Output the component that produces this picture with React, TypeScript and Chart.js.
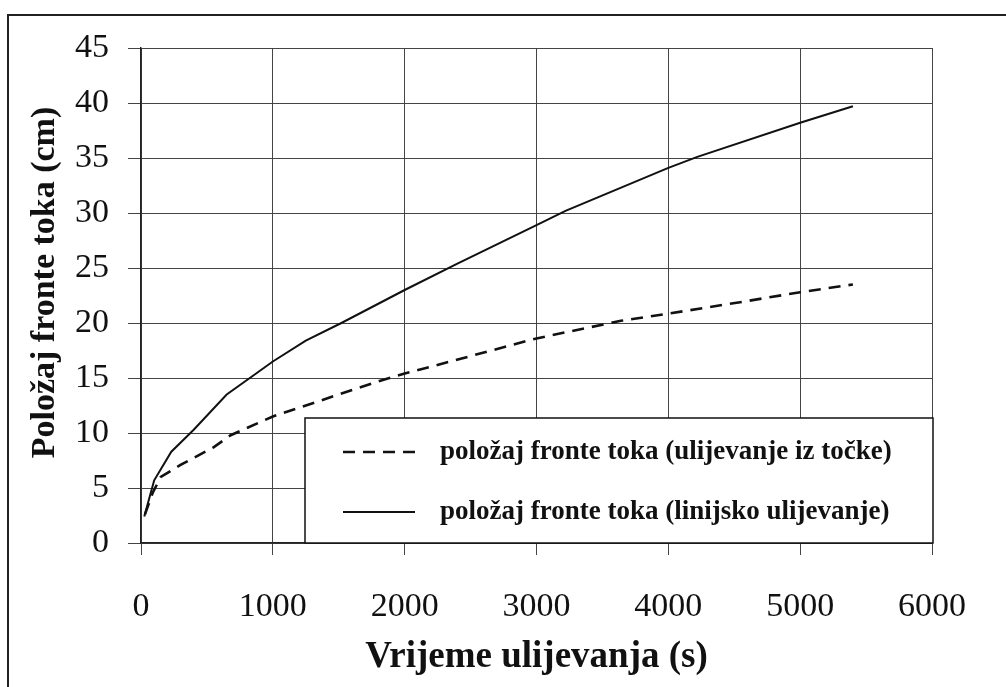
import React, { useEffect, useRef } from "react";
import { Chart, registerables } from "chart.js";

Chart.register(...registerables);

// Time (s) and flow-front position (cm) — linear infiltration (solid line)
const lineTimes = [25, 100, 230, 400, 650, 860, 1000, 1250, 1520, 2000, 2400, 3000, 3220, 4000, 4220, 5000, 5400];
const lineFront = [2.4, 5.7, 8.3, 10.3, 13.5, 15.3, 16.5, 18.4, 20.0, 23.0, 25.4, 28.9, 30.2, 34.1, 35.1, 38.2, 39.7];

// Time (s) and flow-front position (cm) — point infiltration (dashed line)
const pointTimes = [30, 90, 150, 300, 550, 680, 1000, 1350, 1800, 2000, 2330, 3000, 3640, 4000, 4600, 5000, 5400];
const pointFront = [2.6, 4.6, 6.0, 7.1, 8.7, 9.8, 11.5, 12.9, 14.7, 15.4, 16.45, 18.6, 20.2, 20.85, 22.0, 22.8, 23.5];

const pointLabel = "položaj fronte toka (ulijevanje iz točke)";
const lineLabel = "položaj fronte toka (linijsko ulijevanje)";
const xTitle = "Vrijeme ulijevanja (s)";
const yTitle = "Položaj fronte toka (cm)";

const xMin = 0;
const xMax = 6000;
const xStep = 1000;
const yMin = 0;
const yMax = 45;
const yStep = 5;

const SERIF = '"Liberation Serif", "Times New Roman", serif';

const yTitlePlugin = {
  id: "yTitlePlugin",
  afterDraw(chart: any) {
    const ctx = chart.ctx;
    const { top, bottom } = chart.chartArea;
    ctx.save();
    ctx.translate(45, (top + bottom) / 2 - 13);
    ctx.rotate(-Math.PI / 2);
    ctx.font = `bold 34px ${SERIF}`;
    ctx.fillStyle = "#111";
    ctx.textAlign = "center";
    ctx.textBaseline = "middle";
    ctx.fillText(yTitle, 0, 0);
    ctx.restore();
  },
};

const boxLegendPlugin = {
  id: "boxLegendPlugin",
  afterDraw(chart: any) {
    const ctx = chart.ctx;
    const area = chart.chartArea;
    const left = area.left + 164;
    const right = area.right + 1;
    const top = area.bottom - 125;
    const bottom = area.bottom;
    ctx.save();
    ctx.fillStyle = "#fff";
    ctx.fillRect(left, top, right - left, bottom - top);
    ctx.strokeStyle = "#111";
    ctx.lineWidth = 1.5;
    ctx.strokeRect(left, top, right - left, bottom - top);

    chart.data.datasets.forEach((ds: any, i: number) => {
      const y = top + 34 + i * 60;
      ctx.beginPath();
      ctx.setLineDash(ds.borderDash || []);
      ctx.lineWidth = ds.borderWidth;
      ctx.strokeStyle = ds.borderColor;
      ctx.moveTo(left + 38, y);
      ctx.lineTo(left + 110, y);
      ctx.stroke();
      ctx.setLineDash([]);
      ctx.font = `bold 27px ${SERIF}`;
      ctx.fillStyle = "#111";
      ctx.textAlign = "left";
      ctx.textBaseline = "middle";
      ctx.fillText(ds.label, left + 135, y);
    });
    ctx.restore();
  },
};

export default function App() {
  const canvasRef = useRef<HTMLCanvasElement | null>(null);

  useEffect(() => {
    const canvas = canvasRef.current;
    if (!canvas) return;
    const chart = new Chart(canvas, {
      type: "line",
      data: {
        datasets: [
          {
            label: pointLabel,
            data: pointTimes.map((t, i) => ({ x: t, y: pointFront[i] })),
            borderColor: "#111",
            borderWidth: 2.6,
            borderDash: [12, 8],
            pointRadius: 0,
            tension: 0,
            fill: false,
          },
          {
            label: lineLabel,
            data: lineTimes.map((t, i) => ({ x: t, y: lineFront[i] })),
            borderColor: "#111",
            borderWidth: 2,
            pointRadius: 0,
            tension: 0,
            fill: false,
          },
        ],
      },
      options: {
        responsive: false,
        animation: false,
        layout: { padding: { left: 0, top: 48, right: 74, bottom: 0 } },
        plugins: {
          legend: { display: false },
          tooltip: { enabled: false },
        },
        scales: {
          x: {
            type: "linear",
            min: xMin,
            max: xMax,
            ticks: {
              stepSize: xStep,
              color: "#111",
              font: { family: SERIF, size: 34 },
              padding: 32,
              maxRotation: 0,
              callback: (v: any) => String(v),
            },
            grid: { color: "#444", lineWidth: 1, tickLength: 12 },
            border: { color: "#222", width: 1.5 },
            title: {
              display: true,
              text: xTitle,
              color: "#111",
              font: { family: SERIF, size: 37, weight: "bold" },
              padding: { top: 0, bottom: 7 },
            },
            afterFit(scale: any) {
              scale.height = 144;
            },
          },
          y: {
            type: "linear",
            min: yMin,
            max: yMax,
            ticks: {
              stepSize: yStep,
              color: "#111",
              font: { family: SERIF, size: 34 },
              padding: 19,
              callback: (v: any) => String(v),
            },
            grid: { color: "#444", lineWidth: 1, tickLength: 13 },
            border: { color: "#222", width: 1.5 },
            afterFit(scale: any) {
              scale.width = 141;
            },
          },
        },
      },
      plugins: [yTitlePlugin, boxLegendPlugin],
    });
    return () => chart.destroy();
  }, []);

  return (
    <div style={{ position: "fixed", left: 0, top: 0, width: 1006, height: 687, background: "#fff", overflow: "hidden" }}>
      <canvas
        ref={canvasRef}
        width={1006}
        height={687}
        style={{ position: "absolute", left: 0, top: 0, display: "block" }}
      />
      <div
        style={{
          position: "absolute",
          left: 7,
          top: 14,
          width: 1100,
          height: 800,
          borderLeft: "2px solid #222",
          borderTop: "2px solid #222",
          pointerEvents: "none",
        }}
      />
    </div>
  );
}
